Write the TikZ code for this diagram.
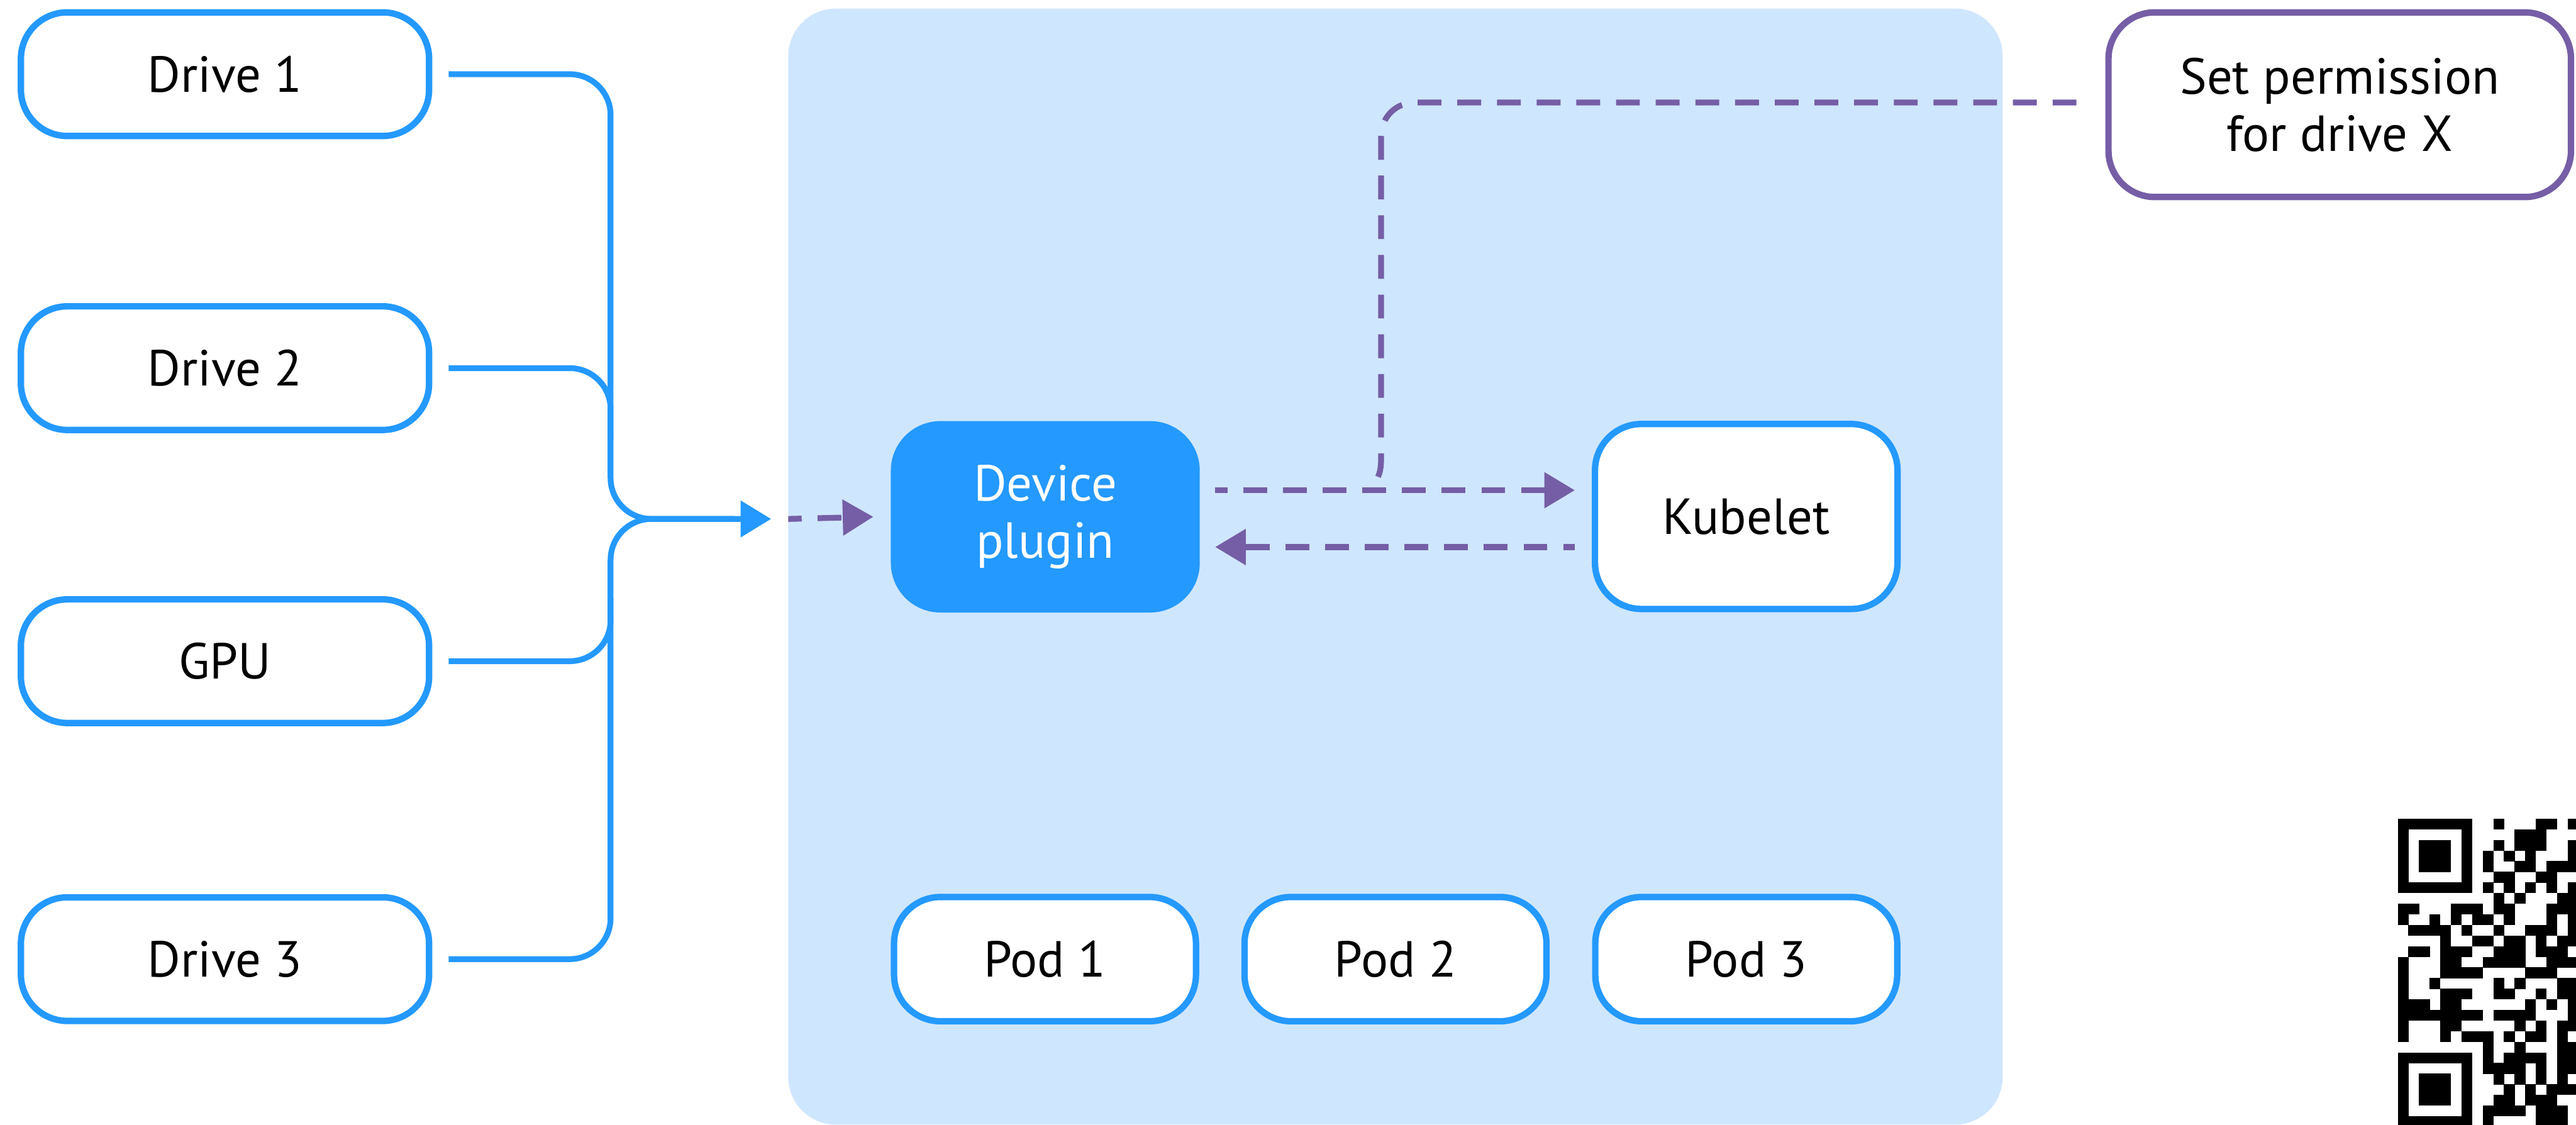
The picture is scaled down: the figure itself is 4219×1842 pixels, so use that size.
\documentclass[tikz,border=0pt]{standalone}
\usepackage{fontspec}
\setmainfont{PT Sans}
\usetikzlibrary{arrows.meta}
\definecolor{kblue}{RGB}{36,153,255}
\definecolor{kpanel}{RGB}{207,230,255}
\definecolor{kpurple}{RGB}{117,94,166}
\begin{document}
\begin{tikzpicture}[x=1pt,y=-1pt,
  every node/.style={font=\fontsize{83}{94}\selectfont, inner sep=0pt, outer sep=0pt},
  box/.style={draw=kblue, line width=10.5pt, fill=white, rounded corners=76pt, text=black, align=center},
  drivebox/.style={box, minimum width=668.5pt, minimum height=202.5pt},
  bigbox/.style={box, minimum width=495.5pt, minimum height=303pt},
  podbox/.style={box, minimum width=494.5pt, minimum height=203.5pt},
  permbox/.style={box, draw=kpurple, minimum width=757.5pt, minimum height=302.5pt},
  plugbox/.style={fill=kblue, text=white},
  bline/.style={draw=kblue, line width=9.5pt, rounded corners=67pt},
  pline/.style={draw=kpurple, line width=9.5pt, dash pattern=on 39pt off 26pt},
  btip/.style={-{Triangle[length=50pt,width=58pt]}},
  ptip/.style={-{Triangle[length=50pt,width=57pt]}},
]
\clip (0,0) rectangle (4219,1842);
\fill[white] (0,0) rectangle (4219,1842);

% panel
\node[fill=kpanel, rounded corners=78pt, minimum width=1989pt, minimum height=1828pt] (panel) at (2285.5,928) {};

% boxes
\node[drivebox] (d1) at (368.5,121.5) {Drive 1};
\node[drivebox] (d2) at (368.5,603) {Drive 2};
\node[drivebox] (gpu) at (368.5,1083) {GPU};
\node[drivebox] (d3) at (368.5,1571) {Drive 3};
\node[bigbox, plugbox] (dp) at (1712,846.5) {Device\\plugin};
\node[bigbox] (kub) at (2860,846) {Kubelet};
\node[podbox] (p1) at (1711.5,1571) {Pod 1};
\node[podbox] (p2) at (2285.5,1571) {Pod 2};
\node[podbox] (p3) at (2860,1571) {Pod 3};
\node[permbox] (perm) at (3832,171.5) {Set permission\\for drive X};

% helper coordinates
\coordinate (hub) at (1263,850);
\coordinate (pe) at (panel.west |- hub);
\coordinate (j2) at (1000,720);
\coordinate (jg) at (1000,980);
\coordinate (ya) at (0,803);
\coordinate (yb) at (0,896);
\coordinate (yc) at (0,168);
\coordinate (br) at (2257,781);

% blue connectors
\draw[bline, btip] ([xshift=32pt]d1.east) -| (1000,850) -- (hub);
\draw[bline, shorten >=60pt] ([xshift=32pt]d3.east) -| (1000,850) -- (hub);
\draw[bline] ([xshift=32pt]d2.east) -| (j2);
\draw[bline] ([xshift=32pt]gpu.east) -| (jg);

% purple connectors
\draw[pline, ptip, dash phase=17pt] (pe) -- ([xshift=-34pt]dp.west);
\draw[pline, ptip, dash phase=19pt, shorten <=30.5pt, shorten >=33pt] (dp.east |- ya) -- (kub.west |- ya);
\draw[pline, ptip, dash phase=20pt, shorten <=33pt, shorten >=30.5pt] (kub.west |- yb) -- (dp.east |- yb);
\draw[pline, shorten >=33pt] (br) .. controls (2261,772) and (2262,762) .. (2262,748)
  -- (2262,223) .. controls (2262,192) and (2286,168) .. (2317,168) -- (perm.west |- yc);

% QR code (partly outside the picture)
\foreach \r/\cs in {
 0/{0,1,2,3,4,5,6,9,13,14,16},
 1/{0,6,11,12,13},
 2/{0,2,3,4,6,9,11,12,13,16},
 3/{0,2,3,4,6,8,10,12,16},
 4/{0,2,3,4,6,8,11,12,14,15,16},
 5/{0,6,9,10,13,14},
 6/{0,1,2,3,4,5,6,8,10,12,14,16},
 7/{9,11,15,16},
 8/{0,1,5,6,7,9,10,14,15,16},
 9/{0,3,5,7,8,10,14,16},
 10/{1,2,3,4,6,9,12,13,14,16},
 11/{4,7,8,10,11,13,15,16},
 12/{1,2,4,5,6,9,10,11,13,14,15},
 13/{0,4,5,8,9,10,11,14,15,16},
 14/{0,4,5,6,7,12,13,14},
 15/{0,3,9,11,15,16},
 16/{0,4,5,6,9,10,13,15,16},
 17/{0,1,2,4,5,12,14,16},
 18/{0,1,2,3,4,5,6,7,9,10,11,12,16},
 19/{0,4,5,11,13,15,16},
 20/{0,4,6,7,8,10,12,13,15},
 21/{8,11,15,16},
 22/{0,1,2,3,4,5,6,8,10,11,12,13,15,16},
 23/{0,6,8,9,10,11,13,15,16},
 24/{0,2,3,4,6,9,11,13,15},
 25/{0,2,3,4,6,10,12,14,15,16},
 26/{0,2,3,4,6,9,10,12,13,14},
 27/{0,6,8,9,10,11,13,14,15},
 28/{0,1,2,3,4,5,6,8,13,14,15}}{
  \foreach \c in \cs {
    \fill[black] ({3927+\c*17.4},{1341+\r*17.4}) rectangle ++(17.7,17.7);
  }
}
\end{tikzpicture}
\end{document}
